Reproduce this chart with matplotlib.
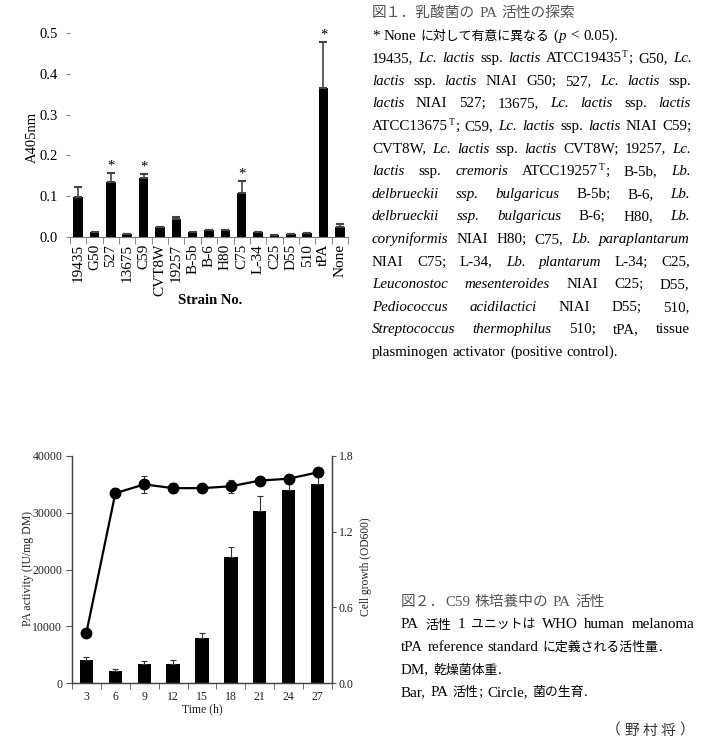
import re
import numpy as np
import matplotlib
matplotlib.use('Agg')
import matplotlib.pyplot as plt

FAM = ['Liberation Serif', 'Noto Sans CJK JP']
plt.rcParams['font.family'] = FAM

# figure 1 data: PA activity screen (A405nm)
strains = ['19435', 'G50', '527', '13675', 'C59', 'CVT8W', '19257', 'B-5b', 'B-6',
           'H80', 'C75', 'L-34', 'C25', 'D55', '510', 'tPA', 'None']
a405 = [0.097, 0.012, 0.135, 0.0065, 0.145, 0.025, 0.044, 0.012, 0.018,
        0.018, 0.107, 0.0115, 0.006, 0.0065, 0.010, 0.364, 0.0245]
a405_err = [0.025, 0.0, 0.021, 0.0, 0.010, 0.0, 0.006, 0.0, 0.0,
            0.0, 0.031, 0.0, 0.0, 0.0, 0.0, 0.114, 0.0065]
signif = ['527', 'C59', 'C75', 'tPA']

# figure 2 data: C59 culture time course
time_h = [3, 6, 9, 12, 15, 18, 21, 24, 27]
pa_activity = [4100, 2200, 3300, 3400, 8000, 22200, 30300, 34000, 35000]
pa_err = [450, 300, 500, 600, 800, 1750, 2600, 1100, 1300]
od600 = [0.40, 1.505, 1.575, 1.545, 1.545, 1.56, 1.605, 1.62, 1.67]
od_err = [0.03, 0.04, 0.07, 0.04, 0.02, 0.05, 0.02, 0.03, 0.03]

# caption text ( _italic_  ^sup^  {japanese}  [japanese title size] )
cap1 = [
    "[図１．乳酸菌の] PA [活性の探索]",
    "* None {に対して有意に異なる} (_p_ < 0.05).",
    "19435, _Lc._ _lactis_ ssp. _lactis_ ATCC19435^T^; G50, _Lc._",
    "_lactis_ ssp. _lactis_ NIAI G50; 527, _Lc._ _lactis_ ssp.",
    "_lactis_ NIAI 527; 13675, _Lc._ _lactis_ ssp. _lactis_",
    "ATCC13675^T^; C59, _Lc._ _lactis_ ssp. _lactis_ NIAI C59;",
    "CVT8W, _Lc._ _lactis_ ssp. _lactis_ CVT8W; 19257, _Lc._",
    "_lactis_ ssp. _cremoris_ ATCC19257^T^; B-5b, _Lb._",
    "_delbrueckii_ _ssp._ _bulgaricus_ B-5b; B-6, _Lb._",
    "_delbrueckii_ _ssp._ _bulgaricus_ B-6; H80, _Lb._",
    "_coryniformis_ NIAI H80; C75, _Lb._ _paraplantarum_",
    "NIAI C75; L-34, _Lb._ _plantarum_ L-34; C25,",
    "_Leuconostoc_ _mesenteroides_ NIAI C25; D55,",
    "_Pediococcus_ _acidilactici_ NIAI D55; 510,",
    "_Streptococcus_ _thermophilus_ 510; tPA, tissue",
    "plasminogen activator (positive control).",
]
cap1_justify = [False, False] + [True] * 13 + [False]
cap2 = [
    "[図２．]C59 [株培養中の] PA [活性]",
    "PA {活性} 1 {ユニットは} WHO human melanoma",
    "tPA reference standard {に定義される活性量}.",
    "DM, {乾燥菌体重}.",
    "Bar, PA {活性}; Circle, {菌の生育}.",
]
cap2_justify = [False, True, False, False, False]
author = "[（] [野] [村] [将] [）]"

W, H = 705, 739
fig = plt.figure(figsize=(W / 100, H / 100), dpi=100)


def fx(px):
    return px / W


def fy(py):
    return 1 - py / H


# ---------------- figure 1 ----------------
ax1 = fig.add_axes([fx(70), fy(237), (348 - 70) / W, (237 - 33) / H])
x1 = np.arange(len(strains))
ax1.bar(x1, a405, width=0.58, color='black',
        yerr=[np.zeros(len(a405)), a405_err],
        error_kw=dict(ecolor='#444', elinewidth=1.2, capsize=3, capthick=1.5))
for i, s in enumerate(strains):
    if s in signif:
        ax1.text(i, a405[i] + a405_err[i] + 0.017, '*', ha='center', va='center',
                 fontsize=10.5, clip_on=False)
ax1.set_xlim(-0.5, len(strains) - 0.5)
ax1.set_ylim(0, 0.5)
ax1.set_yticks(np.arange(0, 0.51, 0.1))
ax1.set_yticklabels(['%.1f' % v for v in np.arange(0, 0.51, 0.1)], fontsize=10.5)
ax1.set_xticks(x1)
ax1.set_xticklabels(strains, rotation=90, fontsize=11)
ax1.set_xticks(np.arange(-0.5, len(strains), 1), minor=True)
ax1.tick_params(axis='x', which='major', length=0, pad=5)
ax1.tick_params(axis='x', which='minor', length=5, color='#777')
ax1.tick_params(axis='y', length=3, color='#888', pad=6)
for sp in ['top', 'right', 'left']:
    ax1.spines[sp].set_visible(False)
ax1.spines['bottom'].set_color('#777')
fig.text(fx(32), fy(137), 'A405nm', rotation=90, fontsize=10.5, ha='center', va='center')
fig.text(fx(210), fy(301), 'Strain No.', fontsize=10.5, fontweight='bold', ha='center', va='center')

# ---------------- figure 2 ----------------
c2 = '#222'
ax2 = fig.add_axes([fx(72), fy(683), (332 - 72) / W, (683 - 456) / H])
x2 = np.arange(len(time_h))
ax2.bar(x2, pa_activity, width=0.46, color='black',
        yerr=[np.zeros(len(pa_err)), pa_err],
        error_kw=dict(ecolor='#333', elinewidth=0.8, capsize=2.5, capthick=0.8))
ax2.set_xlim(-0.5, len(time_h) - 0.5)
ax2.set_ylim(0, 40000)
ax2.set_yticks(range(0, 40001, 10000))
ax2.set_xticks(x2)
ax2.set_xticklabels([str(t) for t in time_h])
ax2.set_xticks(np.arange(-0.5, len(time_h), 1), minor=True)
ax2.tick_params(axis='x', which='major', length=0, pad=6, labelsize=8.5, labelcolor=c2)
ax2.tick_params(axis='x', which='minor', length=4, color='#555')
ax2.tick_params(axis='y', length=4, color='#555', labelsize=8.5, labelcolor=c2, pad=3)

ax3 = ax2.twinx()
ax3.errorbar(x2, od600, yerr=od_err, color='black', marker='o', ms=7.5, lw=1.6,
             ecolor='#333', elinewidth=0.8, capsize=2.5, capthick=0.8)
ax3.set_ylim(0, 1.8)
ax3.set_yticks([0, 0.6, 1.2, 1.8])
ax3.set_yticklabels(['0.0', '0.6', '1.2', '1.8'])
ax3.tick_params(axis='y', length=3, color='#555', labelsize=8.5, labelcolor=c2, pad=2)
for a in (ax2, ax3):
    a.spines['top'].set_visible(False)
    for sp in ['left', 'right', 'bottom']:
        a.spines[sp].set_color('#444')
        a.spines[sp].set_linewidth(0.9)
fig.text(fx(28), fy(569), 'PA activity (IU/mg DM)', rotation=90, fontsize=8.5,
         color=c2, ha='center', va='center')
fig.text(fx(366), fy(567), 'Cell growth (OD600)', rotation=90, fontsize=8.3,
         color=c2, ha='center', va='center')
fig.text(fx(202), fy(709), 'Time (h)', fontsize=8.5, color=c2, ha='center', va='center')

# ---------------- captions ----------------
FS = 10.8
STYLE = {
    'n': dict(fontsize=FS, fontstyle='normal'),
    'i': dict(fontsize=FS, fontstyle='italic'),
    's': dict(fontsize=7, fontstyle='normal'),
    'j': dict(fontsize=9.3, fontstyle='normal'),
    'jt': dict(fontsize=10.6, fontstyle='normal'),
}
renderer = fig.canvas.get_renderer()


def parse_word(word):
    runs = []
    for part in re.split(r'(_[^_]+_|\^[^^]+\^|\{[^}]+\}|\[[^\]]+\])', word):
        if not part:
            continue
        if part[0] == '_':
            runs.append((part[1:-1], 'i'))
        elif part[0] == '^':
            runs.append((part[1:-1], 's'))
        elif part[0] == '{':
            runs.append((part[1:-1], 'j'))
        elif part[0] == '[':
            runs.append((part[1:-1], 'jt'))
        else:
            runs.append((part, 'n'))
    return runs


def draw_line(line, x0, yc, width=None, color='black', gap=3.8, align='left'):
    words = []
    for w in line.split(' '):
        objs = []
        for txt, st in parse_word(w):
            t = fig.text(0, 0, txt, color=color, va='baseline', ha='left',
                         family=FAM, **STYLE[st])
            objs.append((t, st, t.get_window_extent(renderer).width))
        words.append(objs)
    wsum = [sum(o[2] for o in objs) for objs in words]
    if width is not None and len(words) > 1:
        gap = (width - sum(wsum)) / (len(words) - 1)
    total = sum(wsum) + gap * (len(words) - 1)
    x = x0 - total if align == 'right' else x0
    base = yc + 5
    for objs in words:
        for t, st, w in objs:
            dy = -5 if st == 's' else 0
            t.set_position((fx(x), fy(base + dy)))
            x += w + 0.4
        x += gap


for k, line in enumerate(cap1):
    color = '#555' if k == 0 else 'black'
    draw_line(line, 372, 12 + 22.6 * k, width=316 if cap1_justify[k] else None, color=color)

for k, line in enumerate(cap2):
    color = '#555' if k == 0 else 'black'
    draw_line(line, 401, 601 + 22.5 * k, width=291 if cap2_justify[k] else None, color=color)

draw_line(author, 692, 730, color='#333', gap=3, align='right')

fig.savefig('out.png', dpi=100)
